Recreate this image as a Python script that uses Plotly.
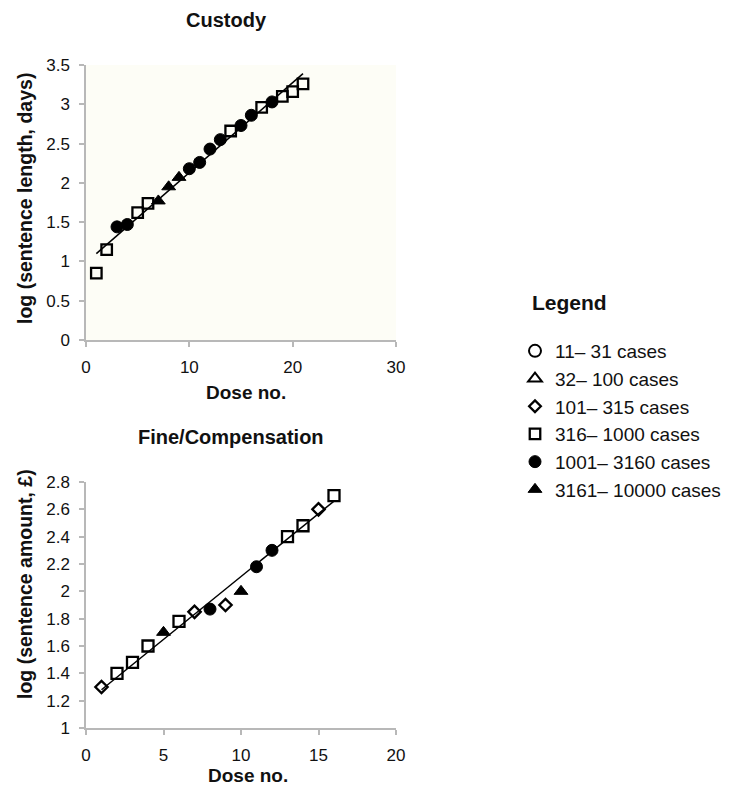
import plotly.graph_objects as go

# ---------------- data ----------------
categories = ["11\u2013 31 cases", "32\u2013 100 cases", "101\u2013 315 cases",
              "316\u2013 1000 cases", "1001\u2013 3160 cases", "3161\u2013 10000 cases"]

# Custody panel: dose number, log sentence length, case-count category index
custody_dose = [1, 2, 3, 4, 5, 6, 7, 8, 9, 10, 11, 12, 13, 14, 15, 16, 17, 18, 19, 20, 21]
custody_log = [0.85, 1.15, 1.44, 1.47, 1.62, 1.74, 1.77, 1.95, 2.07, 2.18, 2.26, 2.43, 2.55,
               2.66, 2.73, 2.86, 2.96, 3.03, 3.10, 3.16, 3.26]
custody_cat = [3, 3, 4, 4, 3, 3, 5, 5, 5, 4, 4, 4, 4, 3, 4, 4, 3, 4, 3, 3, 3]
custody_fit_x = [1, 21]
custody_fit_y = [1.10, 3.39]

# Fine/Compensation panel
fine_dose = [1, 2, 3, 4, 5, 6, 7, 8, 9, 10, 11, 12, 13, 14, 15, 16]
fine_log = [1.30, 1.40, 1.48, 1.60, 1.70, 1.78, 1.85, 1.87, 1.90, 2.00, 2.18, 2.30, 2.40,
            2.48, 2.60, 2.70]
fine_cat = [2, 3, 3, 3, 5, 3, 2, 4, 2, 5, 4, 4, 3, 3, 2, 3]
fine_fit_x = [1, 16]
fine_fit_y = [1.28, 2.66]

# ---------------- styling ----------------
FONT = "Liberation Sans, Arial, Helvetica, sans-serif"
symbols = ["circle-open", "triangle-up-open", "diamond-open", "square-open", "circle", "triangle-up"]
sizes_c = [12, 12, 9, 10.5, 12, 12]
sizes_f = [12, 12, 9.5, 11, 12, 12]
lw = [2, 2, 2.3, 2.3, 1, 1]

W, H = 732, 791
def px(x): return x / W
def py(y): return 1 - y / H

fig = go.Figure()

for k, name in enumerate(categories):
    cx = [d for d, c in zip(custody_dose, custody_cat) if c == k]
    cy = [v for v, c in zip(custody_log, custody_cat) if c == k]
    fx = [d for d, c in zip(fine_dose, fine_cat) if c == k]
    fy = [v for v, c in zip(fine_log, fine_cat) if c == k]
    fig.add_trace(go.Scatter(
        x=cx if cx else [None], y=cy if cy else [None], mode="markers", name=name,
        legendgroup=name, showlegend=True, xaxis="x", yaxis="y",
        marker=dict(symbol=symbols[k], size=sizes_c[k], color="black",
                    line=dict(color="black", width=lw[k]))))
    fig.add_trace(go.Scatter(
        x=fx if fx else [None], y=fy if fy else [None], mode="markers", name=name,
        legendgroup=name, showlegend=False, xaxis="x2", yaxis="y2",
        marker=dict(symbol=symbols[k], size=sizes_f[k], color="black",
                    line=dict(color="black", width=lw[k]))))

fig.add_trace(go.Scatter(x=custody_fit_x, y=custody_fit_y, mode="lines", showlegend=False,
                         line=dict(color="black", width=1.5), xaxis="x", yaxis="y"))
fig.add_trace(go.Scatter(x=fine_fit_x, y=fine_fit_y, mode="lines", showlegend=False,
                         line=dict(color="black", width=1.5), xaxis="x2", yaxis="y2"))

axis_common = dict(showgrid=False, zeroline=False, showline=True, linecolor="#b8b8b8",
                   linewidth=1.5, ticks="outside", ticklen=5, tickcolor="#b8b8b8",
                   tickwidth=1.5, automargin=False,
                   tickfont=dict(family=FONT, size=17, color="#111"))

fig.update_layout(
    width=W, height=H, autosize=False,
    margin=dict(l=0, r=0, t=0, b=0, pad=0, autoexpand=False),
    paper_bgcolor="white", plot_bgcolor="white",
    xaxis=dict(domain=[px(86), px(396)], anchor="y", range=[0, 30], dtick=10,
               ticklabelstandoff=6, **axis_common),
    yaxis=dict(domain=[py(340), py(65)], anchor="x", range=[0, 3.5], dtick=0.5,
               ticklabelstandoff=6, **axis_common),
    xaxis2=dict(domain=[px(86), px(396)], anchor="y2", range=[0, 20], dtick=5,
                ticklabelstandoff=6, **axis_common),
    yaxis2=dict(domain=[py(728), py(482)], anchor="x2", range=[1, 2.8], dtick=0.2,
                ticklabelstandoff=6, **axis_common),
    showlegend=True,
    legend=dict(x=px(515), y=py(332), xanchor="left", yanchor="top",
                font=dict(family=FONT, size=19, color="#111"),
                bgcolor="rgba(0,0,0,0)", tracegroupgap=0, itemclick=False),
    shapes=[dict(type="rect", xref="x domain", yref="y domain", x0=0, x1=1, y0=0, y1=1,
                 fillcolor="#fdfdf6", line=dict(width=0), layer="below")],
)

def ann(text, x, y, size=20, angle=0):
    fig.add_annotation(text=text, x=px(x), y=py(y), xref="paper", yref="paper",
                       showarrow=False, textangle=angle, xanchor="center", yanchor="middle",
                       font=dict(family=FONT, size=size, color="#111"))

ann("<b>Custody</b>", 226, 20)
ann("<b>Fine/Compensation</b>", 231, 437)
ann("<b>Dose no.</b>", 246, 392, size=19)
ann("<b>Dose no.</b>", 248, 775, size=19)
ann("<b>log (sentence length, days)</b>", 25, 199, size=19.5, angle=-90)
ann("<b>log (sentence amount, \u00a3)</b>", 25, 584, size=19.5, angle=-90)
ann("<b>Legend</b>", 569, 302, size=21)

fig.write_html("out.html", config={"displayModeBar": False},
               post_script="document.body.style.margin='0';document.body.style.overflow='hidden';")
